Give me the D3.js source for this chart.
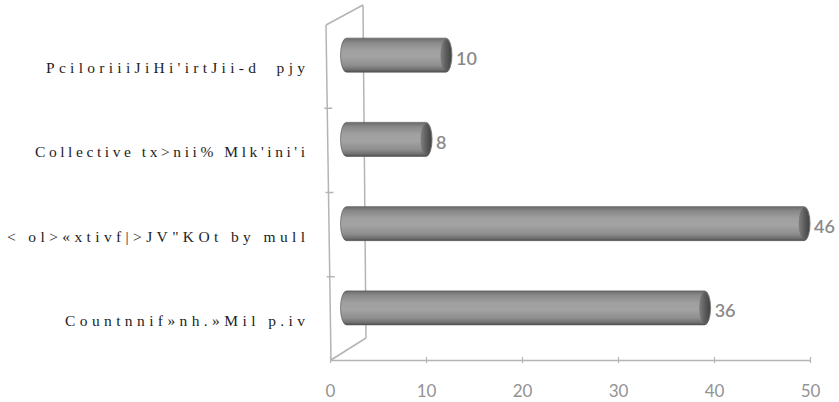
<!DOCTYPE html>
<html>
<head>
<meta charset="utf-8">
<script src="https://cdn.jsdelivr.net/npm/d3@7"></script>
<style>
  html, body { margin: 0; padding: 0; background: #fff; }
  svg { display: block; }
</style>
</head>
<body>
<svg id="chart" width="839" height="402"></svg>
<script>
// Category names, top to bottom
const categories = [
  "PciloriiiJiHi'irtJii-d  pjy",
  "Collective tx>nii% Mlk'ini'i",
  "< ol>«xtivf|>JV\"KOt by mull",
  "Countnnif»nh.»Mil p.iv"
];
// Counts per category
const counts = [10, 8, 46, 36];
// Horizontal axis ticks
const xTicks = [0, 10, 20, 30, 40, 50];

// Layout (kept apart from the data)
const labelRight = 305;               // right edge of category labels
const labelWidths = [259, 270, 298, 240];
const barHeight = 34;
const capRx = 6;                      // ellipse radius of the cylinder ends

const svg = d3.select("#chart");
const defs = svg.append("defs");

// Cylinder body shading
const bodyGrad = defs.append("linearGradient")
  .attr("id", "body").attr("x1", 0).attr("y1", 0).attr("x2", 0).attr("y2", 1);
[[0, "#6a6a6a"], [0.12, "#878787"], [0.35, "#a0a0a0"], [0.55, "#a3a3a3"],
 [0.8, "#8e8e8e"], [0.93, "#707070"], [1, "#4e4e4e"]]
  .forEach(([o, c]) => bodyGrad.append("stop").attr("offset", o).attr("stop-color", c));

// End cap shading
const capGrad = defs.append("linearGradient")
  .attr("id", "cap").attr("x1", 0).attr("y1", 0).attr("x2", 1).attr("y2", 0);
[[0, "#808080"], [0.5, "#5e5e5e"], [1, "#424242"]]
  .forEach(([o, c]) => capGrad.append("stop").attr("offset", o).attr("stop-color", c));

// Scales: axis on the front edge, bars on the mid-depth plane
const x = d3.scaleLinear().domain([0, 50]).range([330, 810]);
const xBar = d3.scaleLinear().domain([0, 50]).range([346.5, 843.9]);
const y = d3.scaleBand().domain(categories).range([13, 350]).padding(0);
const cyOf = c => y(c) + y.bandwidth() / 2;

// Side wall of the 3D frame
const wall = svg.append("g")
  .attr("fill", "none").attr("stroke", "#b4b4b4").attr("stroke-width", 1.5);
wall.append("path").attr("d", "M326,25 L331,360");
wall.append("path").attr("d", "M363,5 L366,338");
wall.append("path").attr("d", "M326,25 L363,5");
wall.append("path").attr("d", "M331,360 L366,338");

// Category separator ticks on the wall edge
const sepY = categories.slice(1).map(c => y(c) + 11);
wall.selectAll("path.sep").data(sepY).join("path")
  .attr("class", "sep")
  .attr("d", v => `M${323 + (v - 25) / 67},${v} L${331 + (v - 25) / 67},${v}`);

// Horizontal axis
const axis = svg.append("g").attr("transform", "translate(0,360)")
  .call(d3.axisBottom(x).tickValues(xTicks).tickSize(0).tickPadding(25)
    .tickFormat(d3.format("d")));
axis.select(".domain").attr("stroke", "#b4b4b4").attr("stroke-width", 1.5);
axis.selectAll(".tick line").attr("y1", -3).attr("y2", 3)
  .attr("stroke", "#b4b4b4").attr("stroke-width", 1.2);
axis.selectAll(".tick text")
  .attr("font-family", "Lato, 'Open Sans', sans-serif")
  .attr("font-size", 17).attr("fill", "#939393");

// Cylinders
const bars = svg.append("g").selectAll("g.bar")
  .data(categories.map((c, i) => ({ c, v: counts[i] })))
  .join("g").attr("class", "bar");

bars.append("path")
  .attr("d", d => {
    const cy = cyOf(d.c);
    const t = cy - barHeight / 2, b = cy + barHeight / 2;
    const x0 = xBar(0), x1 = xBar(d.v);
    const r = barHeight / 2;
    return `M${x0},${t} L${x1},${t} A${capRx},${r} 0 0 1 ${x1},${b} ` +
           `L${x0},${b} A${capRx},${r} 0 0 1 ${x0},${t} Z`;
  })
  .attr("fill", "url(#body)")
  .attr("stroke", "#5a5a5a").attr("stroke-width", 0.7);

bars.append("ellipse")
  .attr("cx", d => xBar(d.v))
  .attr("cy", d => cyOf(d.c))
  .attr("rx", capRx - 0.5).attr("ry", barHeight / 2 - 1)
  .attr("fill", "url(#cap)");

// Value labels
bars.append("text")
  .attr("x", d => xBar(d.v) + capRx + 4)
  .attr("y", d => cyOf(d.c) + 5)
  .attr("dominant-baseline", "middle")
  .attr("font-family", "Lato, 'Open Sans', sans-serif")
  .attr("font-size", 18).attr("font-weight", 600).attr("fill", "#8a8a8a")
  .text(d => d.v);

// Category labels
svg.append("g").selectAll("text").data(categories).join("text")
  .attr("x", (d, i) => labelRight - labelWidths[i])
  .attr("y", d => cyOf(d) + 18)
  .attr("textLength", (d, i) => labelWidths[i])
  .attr("lengthAdjust", "spacing")
  .style("white-space", "pre")
  .attr("font-family", "'Liberation Serif', 'Times New Roman', serif")
  .attr("font-size", 15.5).attr("fill", "#1e1e1e")
  .text(d => d);
</script>
</body>
</html>
